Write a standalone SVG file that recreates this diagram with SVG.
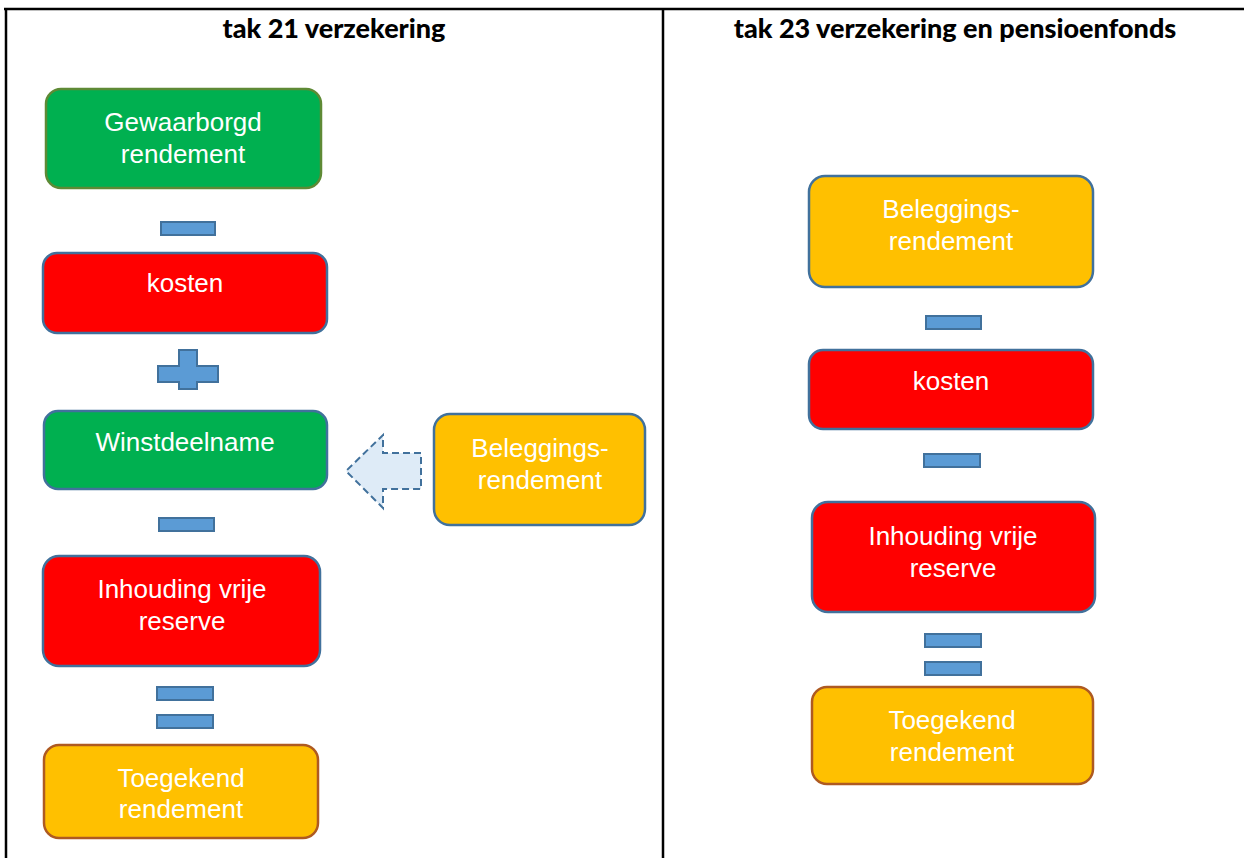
<svg xmlns="http://www.w3.org/2000/svg" width="1244" height="858" viewBox="0 0 1244 858">
  <style>
    .hdr { font-family: Lato, "Open Sans", "Liberation Sans", sans-serif; font-weight: 900; font-size: 27px; fill: #000; text-anchor: middle; }
    .lbl { font-family: "Liberation Sans", Arial, sans-serif; font-size: 26px; fill: #fff; text-anchor: middle; }
    .green { fill: #00B050; }
    .red { fill: #FF0000; }
    .orange { fill: #FFC000; }
    .bb { stroke: #41719C; stroke-width: 2.5; }
    .gb { stroke: #5E8A35; stroke-width: 2.5; }
    .ob { stroke: #AE5A21; stroke-width: 2.5; }
    .op { fill: #5B9BD5; stroke: #41719C; stroke-width: 2; }
  </style>

  <rect x="0" y="0" width="1244" height="858" fill="#fff"/>

  <!-- table frame -->
  <g id="table" stroke="#000" stroke-width="2.5" fill="none">
    <line x1="4" y1="9" x2="1244" y2="9"/>
    <line x1="6" y1="8" x2="6" y2="858"/>
    <line x1="663" y1="8" x2="663" y2="858"/>
  </g>
  <text class="hdr" x="334" y="38">tak 21 verzekering</text>
  <text class="hdr" x="955" y="38">tak 23 verzekering en pensioenfonds</text>

  <!-- left column -->
  <g id="gewaarborgd">
    <rect class="green gb" x="46" y="89" width="275" height="99" rx="15"/>
    <text class="lbl" x="183" y="131">Gewaarborgd</text>
    <text class="lbl" x="183" y="163">rendement</text>
  </g>
  <g id="kosten-l">
    <rect class="red bb" x="43" y="253" width="284" height="80" rx="14"/>
    <text class="lbl" x="185" y="292">kosten</text>
  </g>
  <g id="winstdeelname">
    <rect class="green bb" x="44" y="411" width="283" height="78" rx="14"/>
    <text class="lbl" x="185" y="451">Winstdeelname</text>
  </g>
  <g id="inhouding-l">
    <rect class="red bb" x="43" y="556" width="277" height="110" rx="16"/>
    <text class="lbl" x="182" y="598">Inhouding vrije</text>
    <text class="lbl" x="182" y="630">reserve</text>
  </g>
  <g id="toegekend-l">
    <rect class="orange ob" x="44" y="745" width="274" height="93" rx="15"/>
    <text class="lbl" x="181" y="787">Toegekend</text>
    <text class="lbl" x="181" y="818">rendement</text>
  </g>
  <g id="beleggings-l">
    <rect class="orange bb" x="434" y="414" width="211" height="111" rx="16"/>
    <text class="lbl" x="540" y="457">Beleggings-</text>
    <text class="lbl" x="540" y="489">rendement</text>
  </g>

  <!-- right column -->
  <g id="beleggings-r">
    <rect class="orange bb" x="809" y="176" width="284" height="111" rx="16"/>
    <text class="lbl" x="951" y="218">Beleggings-</text>
    <text class="lbl" x="951" y="250">rendement</text>
  </g>
  <g id="kosten-r">
    <rect class="red bb" x="809" y="350" width="284" height="79" rx="14"/>
    <text class="lbl" x="951" y="390">kosten</text>
  </g>
  <g id="inhouding-r">
    <rect class="red bb" x="812" y="502" width="283" height="110" rx="16"/>
    <text class="lbl" x="953" y="545">Inhouding vrije</text>
    <text class="lbl" x="953" y="577">reserve</text>
  </g>
  <g id="toegekend-r">
    <rect class="orange ob" x="812" y="687" width="281" height="97" rx="15"/>
    <text class="lbl" x="952" y="729">Toegekend</text>
    <text class="lbl" x="952" y="761">rendement</text>
  </g>

  <!-- operators and the inflow arrow -->
  <g id="connectors">
    <rect class="op" x="161" y="222" width="54" height="13"/>
    <path class="op" d="M179,350 H197 V366 H218 V382 H197 V389 H179 V382 H158 V366 H179 Z"/>
    <rect class="op" x="159" y="518" width="55" height="13"/>
    <rect class="op" x="157" y="687" width="56" height="13"/>
    <rect class="op" x="157" y="715" width="56" height="13"/>

    <rect class="op" x="926" y="316" width="55" height="13"/>
    <rect class="op" x="924" y="454" width="56" height="13"/>
    <rect class="op" x="925" y="634" width="56" height="13"/>
    <rect class="op" x="925" y="662" width="56" height="13"/>

    <path d="M421,453 H383 V435 L346,471 L383,508 V489 H421 Z" fill="#DEEBF7" stroke="#41719C" stroke-width="2" stroke-dasharray="7,4"/>
  </g>
</svg>
